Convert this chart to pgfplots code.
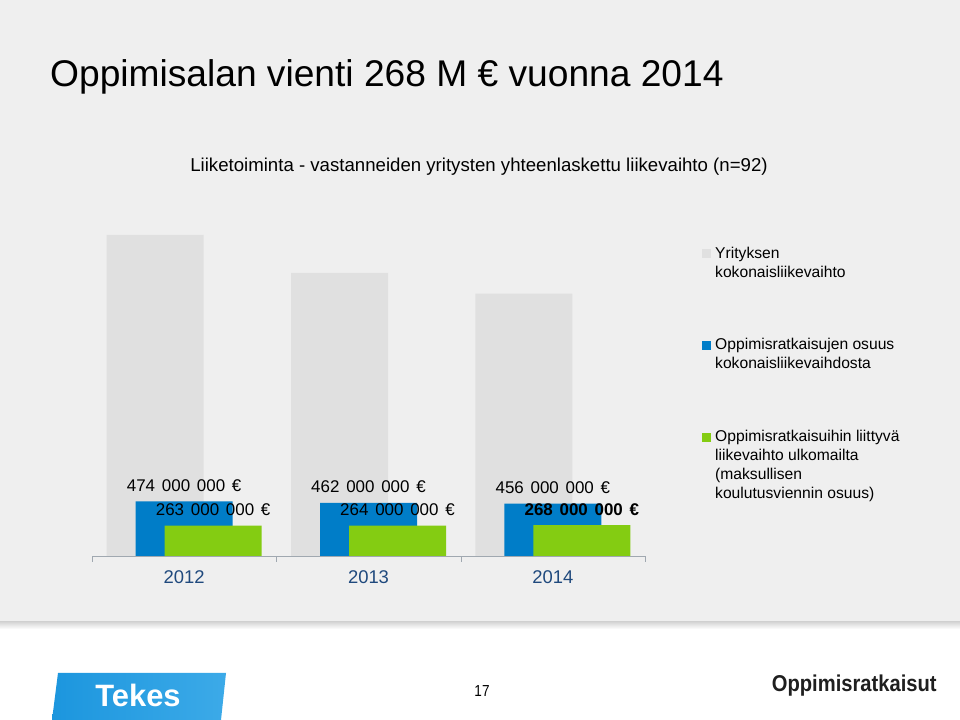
\documentclass[border=0pt]{standalone}
\usepackage{pgfplots}
\pgfplotsset{compat=1.18}
\usepackage{fontspec}
\setmainfont{Liberation Sans}
\newfontfamily\logofont[FakeStretch=0.88]{Liberation Sans}
\newfontfamily\numfont[FakeStretch=0.85]{Liberation Sans}
\definecolor{bggray}{RGB}{239,239,239}
\definecolor{bargray}{RGB}{224,224,224}
\definecolor{barblue}{RGB}{0,125,200}
\definecolor{bargreen}{RGB}{132,204,18}
\definecolor{yearblue}{RGB}{31,73,125}
\definecolor{axisgray}{RGB}{160,168,176}
\definecolor{tekesblue}{RGB}{28,150,222}
\definecolor{tekeslight}{RGB}{60,170,232}
\pgfplotsset{sq legend/.style={legend image code/.code={\fill[##1] (0bp,0bp) rectangle (9bp,9bp);}}}
\newcommand{\gs}{\hspace{0.4em}}
\begin{document}
\begin{tikzpicture}[x=1bp,y=1bp]
\fill[white] (0,0) rectangle (960,720);
\fill[bggray] (0,98) rectangle (960,720);
\shade[top color=black!16, bottom color=white] (0,98) rectangle (960,91);
\node[anchor=base west, font=\fontsize{37.3}{41}\selectfont, inner sep=0pt] at (50,633) {Oppimisalan vienti 268 M € vuonna 2014};
\node[anchor=base, font=\fontsize{18.7}{22}\selectfont, inner sep=0pt] at (479,548.3) {Liiketoiminta - vastanneiden yritysten yhteenlaskettu liikevaihto (n=92)};
\begin{axis}[
  at={(92bp,164bp)}, anchor=south west,
  scale only axis, width=553bp, height=336bp,
  xmin=-0.5, xmax=2.5, ymin=0, ymax=2920,
  axis y line=none, axis x line*=bottom,
  x axis line style={draw=axisgray, -},
  xtick={0,1,2}, xticklabels={2012,2013,2014},
  major x tick style={draw=none},
  minor xtick={-0.5,0.5,1.5,2.5},
  minor tick length=6bp, tick align=outside,
  minor x tick style={draw=axisgray},
  xticklabel style={font=\fontsize{18.5}{22}\selectfont, text=yearblue, yshift=-7bp},
  ybar, bar width=97bp,
  every node near coord/.append style={font=\fontsize{17}{20}\selectfont, anchor=base, yshift=10bp, inner sep=0pt, text=black},
  legend style={at={(1.1031,0.9265)}, anchor=north west, draw=none, fill=none,
    inner sep=0pt, row sep=77bp, column sep=4bp,
    font=\fontsize{15.7}{19}\selectfont,
    nodes={inner sep=0pt}, cells={anchor=base west}},
  clip=false,
]
\addplot[ybar, bar shift=-29bp, fill=bargray, draw=none, sq legend] coordinates {(0,2790) (1,2460) (2,2280)};
\addlegendentry{\begin{tabular}[t]{@{}l@{}}Yrityksen\\kokonaisliikevaihto\end{tabular}}
\addplot[ybar, bar shift=0bp, fill=barblue, draw=none, sq legend,
  point meta=explicit symbolic, nodes near coords] coordinates {
  (0,474) [474\gs000\gs000\gs€]
  (1,462) [462\gs000\gs000\gs€]
  (2,456) [456\gs000\gs000\gs€]};
\addlegendentry{\begin{tabular}[t]{@{}l@{}}Oppimisratkaisujen osuus\\kokonaisliikevaihdosta\end{tabular}}
\addplot[ybar, bar shift=29bp, fill=bargreen, draw=none, sq legend,
  point meta=explicit symbolic, nodes near coords] coordinates {
  (0,263) [263\gs000\gs000\gs€]
  (1,264) [264\gs000\gs000\gs€]
  (2,268) [\textbf{268\gs000\gs000\gs€}]};
\addlegendentry{\begin{tabular}[t]{@{}l@{}}Oppimisratkaisuihin liittyvä\\liikevaihto ulkomailta\\(maksullisen\\koulutusviennin osuus)\end{tabular}}
\end{axis}
\shade[left color=tekesblue, right color=tekeslight] (52,0) -- (58,47) -- (226,47) -- (221,0) -- cycle;
\node[anchor=base, font=\fontsize{31}{33}\selectfont\bfseries, text=white, inner sep=0pt] at (138,13) {Tekes};
\node[anchor=base, font=\numfont\fontsize{16}{18}\selectfont, inner sep=0pt] at (482,23) {17};
\node[anchor=base west, font=\logofont\bfseries\fontsize{23}{26}\selectfont, text=black!88, inner sep=0pt] at (771.7,28.3) {Oppimisratkaisut};
\end{tikzpicture}
\end{document}
